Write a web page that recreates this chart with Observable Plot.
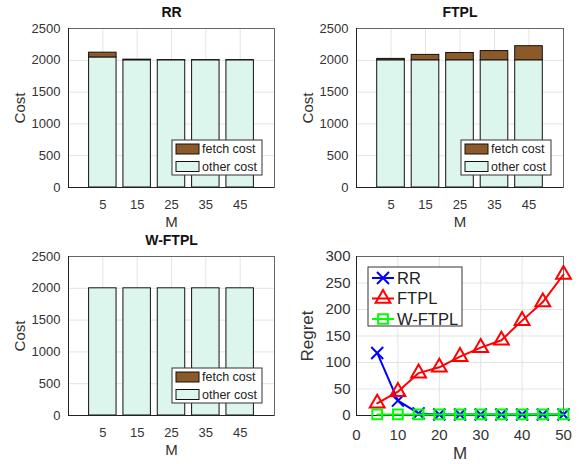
<!DOCTYPE html>
<html><head><meta charset="utf-8">
<script src="https://cdn.jsdelivr.net/npm/d3@7"></script>
<script src="https://cdn.jsdelivr.net/npm/@observablehq/plot@0.6"></script>
<style>
body{margin:0;background:#fff;}
#wrap{position:relative;width:583px;height:464px;overflow:hidden;font-family:"Liberation Sans",Arial,sans-serif;}
#wrap svg{position:absolute;overflow:visible;}
</style></head>
<body><div id="wrap"></div>
<script>
// ---- data ----
const barM = [5, 15, 25, 35, 45];
const barTicksY = [0, 500, 1000, 1500, 2000, 2500];
const costTypes = ["fetch cost", "other cost"];
const rrOther = [2045, 2000, 2000, 2000, 2000];
const rrFetch = [75, 10, 2, 1, 1];
const ftplOther = [2000, 2000, 2000, 2000, 2000];
const ftplFetch = [22, 85, 115, 145, 222];
const wftplOther = [2000, 2000, 2000, 2000, 2000];
const wftplFetch = [0, 0, 0, 0, 0];

const regM = [5, 10, 15, 20, 25, 30, 35, 40, 45, 50];
const regRR = [118, 28, 4, 2, 2, 2, 2, 2, 2, 2];
const regFTPL = [23, 45, 80, 91, 111, 128, 142, 179, 214, 266];
const regWFTPL = [2, 2, 2, 2, 2, 2, 2, 2, 2, 2];
const regSeries = ["RR", "FTPL", "W-FTPL"];
const regColors = ["#0000ff", "#ff0000", "#00ff00"];
const regSymbols = ["times", "triangle", "square"];
const regTicksX = [0, 10, 20, 30, 40, 50];
const regTicksY = [0, 50, 100, 150, 200, 250, 300];

const FETCH = "#8c5a28", OTHER = "#dcf5ed";
const FONT = '"Liberation Sans", Arial, sans-serif';
const wrap = document.getElementById("wrap");
const fmt = d => String(d);

function place(svg, left, top) {
  svg.style.left = left + "px"; svg.style.top = top + "px";
  wrap.appendChild(svg);
}

function barPanel(title, other, fetch, left, top, mt, mb, ml, mr) {
  const W = left === 0 ? 290 : 293, H = 232;
  const rows = [];
  barM.forEach((m, i) => {
    rows.push({M: m, type: "other cost", y1: 0, y2: other[i]});
    rows.push({M: m, type: "fetch cost", y1: other[i], y2: other[i] + fetch[i]});
  });
  const svg = Plot.plot({
    width: W, height: H, marginTop: mt, marginBottom: mb, marginLeft: ml, marginRight: mr,
    style: {fontFamily: FONT, fontSize: "13px", color: "#333", background: "white"},
    x: {domain: [-5, 55]},
    y: {domain: [0, 2500]},
    color: {domain: costTypes, range: [FETCH, OTHER]},
    marks: [
      Plot.gridX(barM, {stroke: "#e3e3e3", strokeOpacity: 1}),
      Plot.gridY(barTicksY, {stroke: "#e3e3e3", strokeOpacity: 1}),
      Plot.rect(rows, {x1: d => d.M - 4, x2: d => d.M + 4, y1: "y1", y2: "y2", fill: "type", stroke: "#111", strokeWidth: 1}),
      Plot.frame({stroke: "#666", strokeWidth: 1}),
      Plot.ruleY([0], {stroke: "#222"}),
      Plot.ruleX([-5], {stroke: "#222"}),
      Plot.axisX(barM, {tickSize: 0, tickPadding: 12, label: null, fontSize: 13, tickFormat: fmt}),
      Plot.axisY(barTicksY, {tickSize: 0, tickPadding: 8, label: null, fontSize: 13, tickFormat: fmt}),
      Plot.text([title], {frameAnchor: "top", dy: -16, lineAnchor: "middle", fontWeight: "bold", fontSize: 14, fill: "#111"}),
      Plot.text(["M"], {frameAnchor: "bottom", dy: 35, lineAnchor: "middle", fontSize: 15, fill: "#333"}),
      Plot.text(["Cost"], {frameAnchor: "left", dx: -48, rotate: -90, textAnchor: "middle", lineAnchor: "middle", fontSize: 15, fill: "#333"})
    ]
  });
  // legend
  const g = d3.select(svg).append("g").attr("text-anchor", "start");
  const fr = W - mr, ft = mt;
  g.append("rect").attr("x", fr - 102).attr("y", ft + 112).attr("width", 90).attr("height", 35)
    .attr("fill", "white").attr("stroke", "#333");
  costTypes.forEach((t, i) => {
    const y = ft + 116 + i * 17.5;
    g.append("rect").attr("x", fr - 98).attr("y", y).attr("width", 23).attr("height", 10)
      .attr("fill", i === 0 ? FETCH : OTHER).attr("stroke", "#111");
    g.append("text").attr("x", fr - 72).attr("y", y + 5).attr("dy", "0.35em")
      .attr("text-anchor", "start")
      .attr("font-size", 12.5).attr("font-family", FONT).attr("fill", "#222").text(t);
  });
  place(svg, left, top);
}

barPanel("RR", rrOther, rrFetch, 0, 0, 28, 45, 68, 16);
barPanel("FTPL", ftplOther, ftplFetch, 290, 0, 28, 45, 66, 20);
barPanel("W-FTPL", wftplOther, wftplFetch, 0, 232, 24, 49, 68, 16);

// regret panel
(function () {
  const rows = [];
  [regRR, regFTPL, regWFTPL].forEach((arr, s) => arr.forEach((v, i) => rows.push({M: regM[i], v, s: regSeries[s]})));
  const W = 293, H = 232, mt = 24, mb = 49, ml = 66, mr = 20;
  const marks = [
    Plot.gridX(regTicksX, {stroke: "#e3e3e3", strokeOpacity: 1}),
    Plot.gridY(regTicksY, {stroke: "#e3e3e3", strokeOpacity: 1}),
    Plot.frame({stroke: "#666"}),
    Plot.ruleY([0], {stroke: "#222"}),
    Plot.ruleX([0], {stroke: "#222"}),
  ];
  regSeries.forEach((name, s) => {
    const d = rows.filter(r => r.s === name);
    marks.push(Plot.line(d, {x: "M", y: "v", stroke: regColors[s], strokeWidth: 2}));
    marks.push(Plot.dot(d, {x: "M", y: "v", stroke: regColors[s], symbol: regSymbols[s], r: 5.5, strokeWidth: 2, fill: "none"}));
  });
  marks.push(
    Plot.axisX(regTicksX, {tickSize: 0, tickPadding: 14, label: null, fontSize: 15, tickFormat: fmt}),
    Plot.axisY(regTicksY, {tickSize: 0, tickPadding: 6, label: null, fontSize: 15, tickFormat: fmt}),
    Plot.text(["M"], {frameAnchor: "bottom", dy: 38, lineAnchor: "middle", fontSize: 17, fill: "#333"}),
    Plot.text(["Regret"], {frameAnchor: "left", dx: -49, rotate: -90, textAnchor: "middle", lineAnchor: "middle", fontSize: 17, fill: "#333"})
  );
  const svg = Plot.plot({
    width: W, height: H, marginTop: mt, marginBottom: mb, marginLeft: ml, marginRight: mr,
    style: {fontFamily: FONT, fontSize: "15px", color: "#333", background: "white"},
    x: {domain: [0, 50]}, y: {domain: [0, 300]},
    marks
  });
  const g = d3.select(svg).append("g").attr("text-anchor", "start");
  g.append("rect").attr("x", 78).attr("y", 35).attr("width", 94).attr("height", 59)
    .attr("fill", "white").attr("stroke", "#333");
  const sym = {times: d3.symbolTimes, triangle: d3.symbolTriangle, square: d3.symbolSquare};
  regSeries.forEach((name, s) => {
    const y = 46 + s * 20.5;
    g.append("line").attr("x1", 82).attr("x2", 104).attr("y1", y).attr("y2", y)
      .attr("stroke", regColors[s]).attr("stroke-width", 2);
    g.append("path").attr("transform", `translate(93,${y})`)
      .attr("d", d3.symbol(sym[regSymbols[s]], 95)())
      .attr("fill", "none").attr("stroke", regColors[s]).attr("stroke-width", 2);
    g.append("text").attr("x", 107).attr("y", y).attr("dy", "0.35em")
      .attr("text-anchor", "start")
      .attr("font-size", 16.5).attr("font-family", FONT).attr("fill", "#222").text(name);
  });
  place(svg, 290, 232);
})();
</script></body></html>
